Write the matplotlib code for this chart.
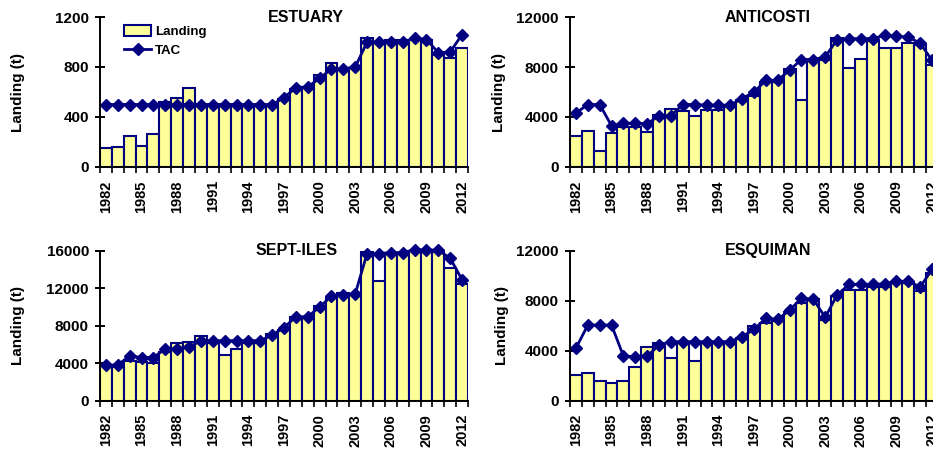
import matplotlib
matplotlib.use("Agg")
import matplotlib.pyplot as plt
from matplotlib.patches import Patch
from matplotlib.lines import Line2D
import numpy as np

plt.rcParams['font.family'] = ['Liberation Sans', 'DejaVu Sans']
plt.rcParams['font.weight'] = 'bold'

years = list(range(1982, 2013))
tick_years = [1982, 1985, 1988, 1991, 1994, 1997, 2000, 2003, 2006, 2009, 2012]

estuary_landing = [150, 160, 250, 165, 262, 520, 550, 630, 500, 500, 500, 500, 500, 500, 500,
                   545, 625, 640, 740, 830, 785, 790, 1030, 1000, 1020, 1015, 1015, 1020, 900, 875, 955]
estuary_tac = [500, 500, 500, 500, 500, 500, 500, 500, 500, 500, 500, 500, 500, 500, 500,
               555, 635, 640, 710, 785, 785, 800, 1000, 1000, 1000, 1000, 1030, 1020, 915, 920, 1060]

anticosti_landing = [2450, 2900, 1250, 2750, 3200, 3200, 2800, 4150, 4650, 4500, 4100, 4600, 4600, 4800, 5400,
                     5650, 6800, 6800, 7870, 5350, 8480, 8530, 10350, 7950, 8670, 10050, 9520, 9520, 9950, 9750, 8130]
anticosti_tac = [4320, 5000, 5000, 3300, 3500, 3500, 3450, 4100, 4100, 5000, 5000, 4950, 4950, 4950, 5470,
                 6000, 6930, 6930, 7750, 8600, 8600, 8800, 10200, 10270, 10270, 10270, 10530, 10450, 10400, 9900, 8530]

septiles_landing = [3700, 3550, 4270, 4160, 4050, 5230, 6150, 6250, 6930, 6150, 4900, 5500, 6150, 6150, 7080,
                    7500, 8900, 8900, 10100, 11000, 11500, 11400, 15900, 12800, 15600, 15700, 16050, 15900, 15900, 14200, 12500]
septiles_tac = [3800, 3800, 4800, 4600, 4600, 5550, 5550, 5700, 6400, 6400, 6400, 6400, 6400, 6400, 7000,
                7800, 8950, 8950, 10000, 11150, 11250, 11400, 15700, 15700, 15800, 15800, 16100, 16100, 16050, 15200, 12900]

esquiman_landing = [2050, 2240, 1570, 1400, 1570, 2720, 4320, 4600, 3400, 4600, 3150, 4600, 4600, 4720, 5000,
                    5950, 6250, 6350, 7120, 7800, 8150, 6450, 8400, 8850, 8850, 9120, 9120, 9400, 9400, 8750, 10200]
esquiman_tac = [4200, 6050, 6050, 6050, 3570, 3520, 3570, 4450, 4720, 4720, 4720, 4720, 4720, 4720, 5120,
                5710, 6590, 6500, 7250, 8190, 8110, 6670, 8450, 9300, 9300, 9300, 9350, 9550, 9550, 9100, 10500]

panels = [
    ("ESTUARY", estuary_landing, estuary_tac, [0, 400, 800, 1200], 1200),
    ("ANTICOSTI", anticosti_landing, anticosti_tac, [0, 4000, 8000, 12000], 12000),
    ("SEPT-ILES", septiles_landing, septiles_tac, [0, 4000, 8000, 12000, 16000], 16000),
    ("ESQUIMAN", esquiman_landing, esquiman_tac, [0, 4000, 8000, 12000], 12000),
]

W, H = 933, 450
fig = plt.figure(figsize=(W / 100, H / 100), dpi=100)

# pixel boxes: (left, top, width, height)
boxes = [(100, 17, 368, 150), (570, 17, 368, 150), (100, 250.7, 368, 150), (570, 250.7, 368, 150)]
title_x = [0.56, 0.538, 0.535, 0.538]
ylab_x = [18, 499, 18, 502]

fill = '#FFFF99'
navy = '#000080'

x = np.arange(len(years))
for i, (name, land, tac, yt, ymax) in enumerate(panels):
    l, t, w, h = boxes[i]
    ax = fig.add_axes([l / W, 1 - (t + h) / H, w / W, h / H])
    ax.bar(x, land, width=1.0, color=fill, edgecolor=navy, linewidth=1.5, zorder=2)
    ax.plot(x, tac, color=navy, linewidth=2, marker='D', markersize=6.3, zorder=3, clip_on=False)
    ax.set_xlim(-0.5, len(years) - 0.5)
    ax.set_ylim(0, ymax)
    ax.set_yticks(yt)
    ax.set_yticklabels([str(v) for v in yt], fontsize=11, fontweight='bold')
    tick_pos = [years.index(y) for y in tick_years]
    ax.set_xticks(tick_pos)
    ax.set_xticklabels([str(y) for y in tick_years], rotation=90, fontsize=10.5, fontweight='bold')
    ax.set_xticks(np.arange(len(years) + 1) - 0.5, minor=True)
    ax.tick_params(axis='x', which='major', length=0, pad=9.5)
    ax.tick_params(axis='x', which='minor', length=4, width=1.2, direction='out', color='black')
    ax.tick_params(axis='y', which='major', length=7, width=1.4, direction='inout', pad=4.5)
    for s in ['top', 'right']:
        ax.spines[s].set_visible(False)
    for s in ['left', 'bottom']:
        ax.spines[s].set_linewidth(1.4)
        ax.spines[s].set_color('black')
        ax.spines[s].set_zorder(4)
    ax.text(title_x[i], 1.0, name, transform=ax.transAxes, ha='center', va='center',
            fontsize=11.5, fontweight='bold')
    ax.set_ylabel("Landing (t)", fontsize=11, fontweight='bold')
    ax.yaxis.label.set_va('center')
    ax.yaxis.set_label_coords((ylab_x[i] - l) / w, 0.5)
    if i == 0:
        handles = [Patch(facecolor=fill, edgecolor=navy, linewidth=1.5),
                   Line2D([0], [0], color=navy, linewidth=2, marker='D', markersize=6.3)]
        ax.legend(handles, ["Landing", "TAC"], loc='upper left', bbox_to_anchor=(0.045, 1.0),
                  frameon=False, prop={'weight': 'bold', 'size': 9.5},
                  handlelength=2.0, handleheight=0.9, labelspacing=0.45, handletextpad=0.3,
                  borderaxespad=0.2)

fig.savefig("out.png", dpi=100)
